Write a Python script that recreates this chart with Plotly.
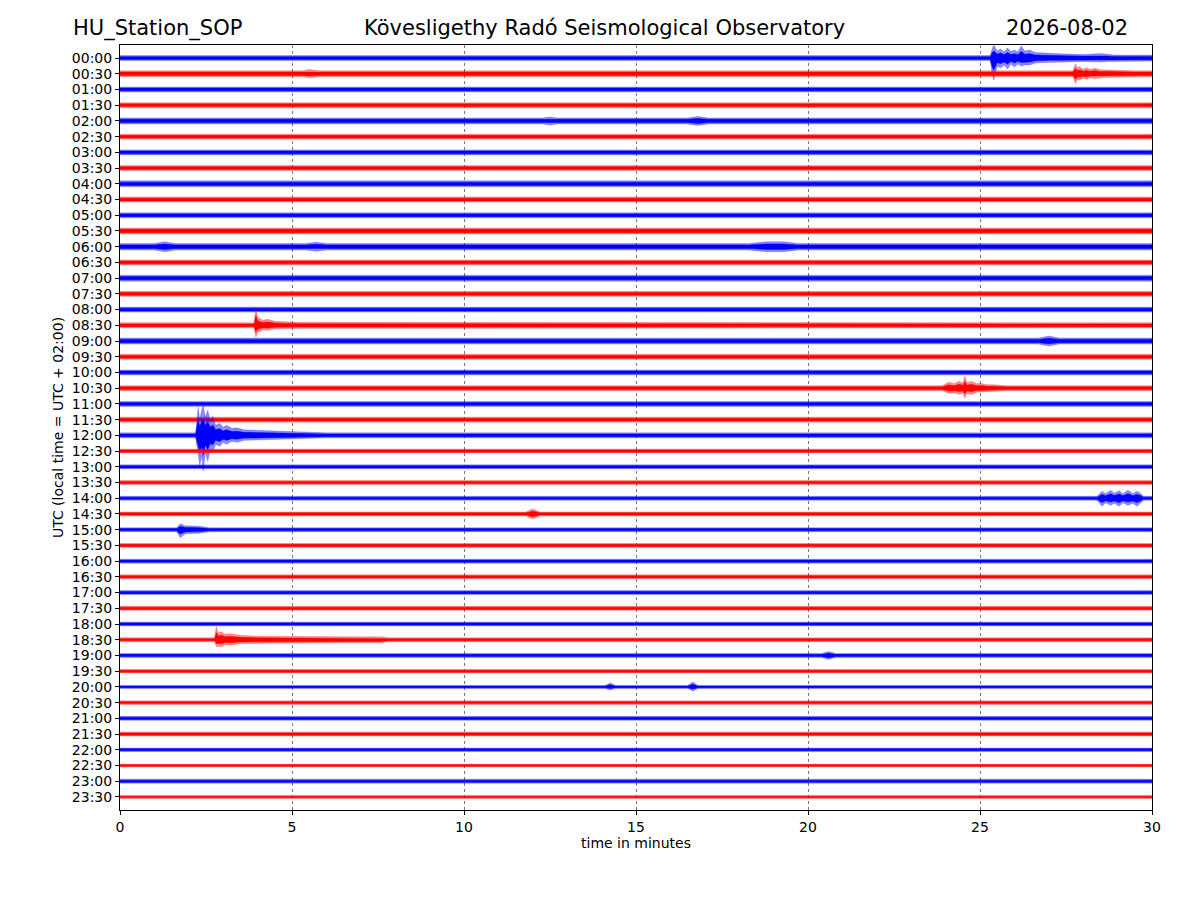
import plotly.graph_objects as go

# helicorder rows, 30 minutes each
row_labels = ["00:00", "00:30", "01:00", "01:30", "02:00", "02:30", "03:00", "03:30",
              "04:00", "04:30", "05:00", "05:30", "06:00", "06:30", "07:00", "07:30",
              "08:00", "08:30", "09:00", "09:30", "10:00", "10:30", "11:00", "11:30",
              "12:00", "12:30", "13:00", "13:30", "14:00", "14:30", "15:00", "15:30",
              "16:00", "16:30", "17:00", "17:30", "18:00", "18:30", "19:00", "19:30",
              "20:00", "20:30", "21:00", "21:30", "22:00", "22:30", "23:00", "23:30"]

# background noise half-amplitude per row (counts)
noise_amp = [250, 300, 250, 250, 300, 250, 250, 250, 300, 250, 250, 300,
             330, 250, 300, 250, 250, 250, 300, 250, 250, 250, 250, 250,
             250, 200, 200, 200, 200, 200, 200, 200, 200, 200, 200, 200,
             200, 200, 200, 180, 150, 180, 200, 200, 180, 150, 200, 150]

# events: row, time (min), upper and lower amplitude (counts)
ev_row = [0, 1, 1, 4, 4, 12, 12, 12, 17, 18, 21, 24, 28, 29, 30, 37, 38, 40, 40]
ev_t = [
    [25.3, 25.35, 25.4, 25.5, 25.6, 25.7, 25.8, 25.9, 26.0, 26.1, 26.2, 26.3, 26.45,
     26.6, 26.8, 27.0, 27.5, 28.0, 28.5, 28.7, 28.9, 29.2, 30.0],
    [5.3, 5.5, 5.8],
    [27.7, 27.78, 27.82, 27.9, 28.0, 28.1, 28.2, 28.35, 28.5, 28.8, 29.0, 29.5],
    [12.3, 12.5, 12.7],
    [16.5, 16.8, 17.1],
    [1.0, 1.3, 1.6],
    [5.4, 5.7, 6.0],
    [18.3, 18.8, 19.3, 19.7],
    [3.9, 3.95, 4.0, 4.08, 4.15, 4.3, 4.5, 4.8, 5.2],
    [26.7, 27.0, 27.3],
    [23.9, 24.1, 24.25, 24.4, 24.5, 24.56, 24.62, 24.75, 24.9, 25.0, 25.2, 25.4, 25.8],
    [2.2, 2.27, 2.32, 2.38, 2.42, 2.48, 2.55, 2.62, 2.7, 2.78, 2.9, 3.0, 3.1, 3.25,
     3.4, 3.6, 4.0, 4.4, 5.1, 5.6, 6.0],
    [28.4, 28.55, 28.65, 28.8, 28.9, 29.05, 29.15, 29.3, 29.45, 29.55, 29.65, 29.75],
    [11.8, 12.0, 12.2],
    [1.65, 1.75, 1.9, 2.3, 2.6],
    [2.75, 2.8, 2.85, 2.95, 3.05, 3.2, 3.5, 4.0, 5.0, 6.5, 7.6, 7.8],
    [20.4, 20.6, 20.8],
    [14.1, 14.25, 14.4],
    [16.5, 16.65, 16.8],
]
ev_up = [
    [250, 900, 1300, 700, 900, 600, 1000, 650, 800, 600, 1200, 700, 800,
     550, 500, 450, 400, 350, 450, 380, 300, 300, 300],
    [300, 420, 300],
    [300, 1000, 600, 700, 450, 600, 450, 550, 400, 400, 350, 300],
    [300, 400, 300],
    [300, 450, 300],
    [330, 500, 330],
    [330, 450, 330],
    [330, 500, 500, 330],
    [250, 1800, 800, 650, 500, 600, 400, 350, 300],
    [300, 500, 300],
    [250, 600, 450, 700, 500, 1200, 550, 700, 450, 500, 350, 350, 250],
    [250, 2800, 1600, 2600, 3000, 1800, 2500, 1500, 1900, 1000, 1200, 800, 1000, 700,
     750, 550, 500, 450, 350, 300, 250],
    [200, 700, 450, 800, 500, 750, 450, 800, 450, 700, 550, 200],
    [200, 500, 200],
    [200, 600, 400, 350, 200],
    [200, 1300, 700, 800, 550, 600, 450, 350, 300, 300, 300, 200],
    [200, 400, 200],
    [150, 400, 150],
    [150, 500, 150],
]
ev_down = [
    [250, 1500, 2200, 800, 1000, 700, 1100, 600, 900, 600, 800, 700, 700,
     500, 450, 400, 400, 350, 400, 350, 300, 300, 300],
    [300, 400, 300],
    [300, 1000, 600, 600, 450, 550, 400, 500, 400, 350, 350, 300],
    [300, 400, 300],
    [300, 450, 300],
    [330, 500, 330],
    [330, 450, 330],
    [330, 500, 500, 330],
    [250, 1200, 700, 600, 450, 500, 350, 300, 300],
    [300, 500, 300],
    [250, 500, 450, 600, 500, 1000, 500, 650, 400, 450, 350, 350, 250],
    [250, 1800, 3000, 2000, 3600, 1700, 2600, 1500, 1700, 900, 1100, 700, 900, 600,
     700, 500, 500, 450, 350, 300, 250],
    [200, 800, 450, 700, 500, 800, 450, 700, 500, 800, 550, 200],
    [200, 500, 200],
    [200, 800, 400, 350, 200],
    [200, 700, 650, 700, 500, 550, 400, 350, 300, 300, 300, 200],
    [200, 400, 200],
    [150, 300, 150],
    [150, 400, 150],
]

counts_per_row = 1572.0
colors = ["#0000ff", "#ff0000"]
fades = ["rgba(0,0,255,0.45)", "rgba(255,0,0,0.45)"]

fig = go.Figure()

for i, lab in enumerate(row_labels):
    pts = {0.0: (noise_amp[i], noise_amp[i]), 30.0: (noise_amp[i], noise_amp[i])}
    for k, r in enumerate(ev_row):
        if r == i:
            for t, u, d in zip(ev_t[k], ev_up[k], ev_down[k]):
                pts[t] = (u, d)
    ts = sorted(pts)
    # outer, lighter envelope and a solid core, like a dense trace
    for frac, fc in [(1.0, fades[i % 2]), (0.55, colors[i % 2])]:
        up = [-i + frac * pts[t][0] / counts_per_row for t in ts]
        dn = [-i - frac * pts[t][1] / counts_per_row for t in ts]
        fig.add_trace(go.Scatter(x=ts + ts[::-1], y=up + dn[::-1], mode="lines",
                                 fill="toself", fillcolor=fc,
                                 line=dict(color=fc, width=0.5),
                                 hoverinfo="skip", showlegend=False))

fig.update_layout(
    width=1200, height=900,
    margin=dict(l=112, r=56, t=37, b=98),
    plot_bgcolor="white", paper_bgcolor="white",
    font=dict(family="DejaVu Sans", size=14, color="black"),
)
fig.update_xaxes(range=[0, 30], tickvals=[0, 5, 10, 15, 20, 25, 30],
                 showgrid=True, gridcolor="#777777", griddash="dot", gridwidth=0.6,
                 showline=True, linecolor="black", linewidth=1, mirror=True,
                 ticks="outside", ticklen=4, tickcolor="black", zeroline=False,
                 tickfont=dict(size=14),
                 title=dict(text="time in minutes", font=dict(size=14), standoff=4))
fig.update_yaxes(range=[-47.83, 0.83], tickvals=[-i for i in range(len(row_labels))],
                 ticktext=row_labels, showgrid=False,
                 showline=True, linecolor="black", linewidth=1, mirror=True,
                 ticks="outside", ticklen=4, tickcolor="black", zeroline=False,
                 tickfont=dict(size=14),
                 title=dict(text="UTC (local time = UTC + 02:00)", font=dict(size=14), standoff=4))

fig.add_annotation(text="HU_Station_SOP", x=-0.0475, y=1.022, xref="paper", yref="paper",
                   xanchor="left", yanchor="middle", showarrow=False, font=dict(size=21))
fig.add_annotation(text="Kövesligethy Radó Seismological Observatory", x=0.469, y=1.022,
                   xref="paper", yref="paper", xanchor="center", yanchor="middle",
                   showarrow=False, font=dict(size=21))
fig.add_annotation(text="2026-08-02", x=0.9787, y=1.022, xref="paper", yref="paper",
                   xanchor="right", yanchor="middle", showarrow=False, font=dict(size=21))

fig.write_html("out.html")
